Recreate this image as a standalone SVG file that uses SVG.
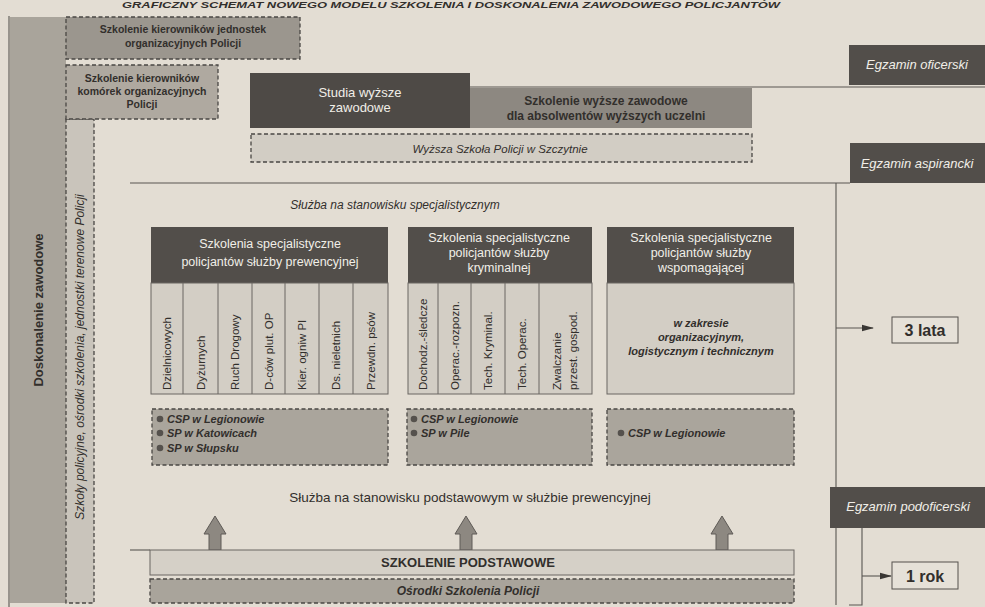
<svg xmlns="http://www.w3.org/2000/svg" width="985" height="607" viewBox="0 0 985 607">
<defs>
<style>
.t{font-family:"Liberation Sans",Arial,sans-serif;fill:#322f2c}
.w{fill:#f1eee8}
.b{font-weight:bold}
.i{font-style:italic}
.c{text-anchor:middle}
.dash{stroke:#4a4744;stroke-width:1.3;stroke-dasharray:4 2.5}
.ln{stroke:#5a5652;stroke-width:1.1;fill:none}
.dark{fill:#524e4a}
.col{font-family:"Liberation Sans",Arial,sans-serif;font-size:11.5px;fill:#322f2c}
</style>
<marker id="ah" viewBox="0 0 12 8" refX="11" refY="4" markerWidth="12" markerHeight="8" markerUnits="userSpaceOnUse" orient="auto">
<path d="M0,0.8 L12,4 L0,7.2 Z" fill="#3a3734"/>
</marker>
<symbol id="up" viewBox="0 0 24 34" overflow="visible">
<path d="M6,34 V18 H1 L12,0 L23,18 H18 V34 Z" fill="#8d8881" stroke="#5e5a56" stroke-width="1"/>
</symbol>
</defs>

<rect width="985" height="607" fill="#e3ddd3"/>

<!-- title -->
<text class="t b i" x="122" y="8" font-size="9" textLength="658" lengthAdjust="spacingAndGlyphs" fill="#2e2b28">GRAFICZNY SCHEMAT NOWEGO MODELU SZKOLENIA I DOSKONALENIA ZAWODOWEGO POLICJANTÓW</text>

<!-- connectors / frame lines -->
<g id="connectors">
<line class="ln" x1="9" y1="16" x2="9" y2="607"/>
<line class="ln" x1="470" y1="87" x2="985" y2="87"/>
<line class="ln" x1="130" y1="183" x2="850" y2="183"/>
<line class="ln" x1="836" y1="183" x2="836" y2="605"/>
<line class="ln" x1="130" y1="550" x2="150" y2="550"/>
<line class="ln" x1="836" y1="328" x2="873" y2="328" marker-end="url(#ah)"/>
<polyline class="ln" points="830,527 862,527 862,605 849,605"/>
<line class="ln" x1="862" y1="576" x2="891" y2="576" marker-end="url(#ah)"/>
<use href="#up" x="203" y="516" width="24" height="34"/>
<use href="#up" x="454" y="516" width="24" height="34"/>
<use href="#up" x="710" y="516" width="24" height="34"/>
</g>

<g id="doskonalenie">
<rect x="10" y="17" width="56" height="586" fill="#a9a49b"/>
<text class="t b c" transform="translate(43,310) rotate(-90)" font-size="13">Doskonalenie zawodowe</text>
</g>

<g id="szkoly">
<rect x="66" y="119" width="28" height="484" fill="#c9c4bb" class="dash"/>
<text class="t i c" transform="translate(84,357) rotate(-90)" font-size="12">Szkoły policyjne, ośrodki szkolenia, jednostki terenowe Policji</text>
</g>

<g id="kier-jednostek">
<rect x="66" y="17" width="234" height="42" fill="#9b968e" class="dash"/>
<text class="t b c" x="183" y="33" font-size="10.5">Szkolenie kierowników jednostek</text>
<text class="t b c" x="183" y="47" font-size="10.5">organizacyjnych Policji</text>
</g>

<g id="kier-komorek">
<rect x="66" y="65" width="152" height="54" fill="#afa9a0" class="dash"/>
<text class="t b c" x="142" y="82" font-size="10.5">Szkolenie kierowników</text>
<text class="t b c" x="142" y="95" font-size="10.5">komórek organizacyjnych</text>
<text class="t b c" x="142" y="108" font-size="10.5">Policji</text>
</g>

<g id="studia">
<rect x="250" y="73" width="220" height="55" fill="#4e4a46"/>
<text class="t w c" x="360" y="97" font-size="13">Studia wyższe</text>
<text class="t w c" x="360" y="112" font-size="13">zawodowe</text>
</g>

<g id="szkolenie-wyzsze">
<rect x="470" y="88" width="282" height="40" fill="#8d8881"/>
<text class="t b c" x="606" y="105" font-size="12" fill="#34312e">Szkolenie wyższe zawodowe</text>
<text class="t b c" x="606" y="120" font-size="12" fill="#34312e">dla absolwentów wyższych uczelni</text>
</g>

<g id="wsp">
<rect x="251" y="134" width="501" height="28" fill="#d2cdc4" class="dash"/>
<text class="t i c" x="500" y="153" font-size="11.5">Wyższa Szkoła Policji w Szczytnie</text>
</g>

<g id="egz-oficerski">
<rect x="849" y="45" width="136" height="40" class="dark"/>
<text class="t w i c" x="917" y="69" font-size="13">Egzamin oficerski</text>
</g>

<g id="egz-aspirancki">
<rect x="850" y="143" width="135" height="40" class="dark"/>
<text class="t w i c" x="917" y="168" font-size="13">Egzamin aspirancki</text>
</g>

<g id="sluzba-spec">
<text class="t i c" x="395" y="209" font-size="12">Służba na stanowisku specjalistycznym</text>
</g>

<g id="prewencja">
<rect x="151" y="227" width="237" height="56" class="dark"/>
<text class="t w c" x="270" y="248" font-size="12.5">Szkolenia specjalistyczne</text>
<text class="t w c" x="270" y="266" font-size="12.5">policjantów służby prewencyjnej</text>
<rect x="151" y="283" width="237" height="111" fill="#d3cec5" stroke="#6a6662" stroke-width="1"/>
<g stroke="#6a6662" stroke-width="1">
<line x1="183" y1="283" x2="183" y2="394"/><line x1="218" y1="283" x2="218" y2="394"/>
<line x1="252" y1="283" x2="252" y2="394"/><line x1="285" y1="283" x2="285" y2="394"/>
<line x1="319" y1="283" x2="319" y2="394"/><line x1="353" y1="283" x2="353" y2="394"/>
</g>
<text class="col" transform="translate(171,390) rotate(-90)">Dzielnicowych</text>
<text class="col" transform="translate(205,390) rotate(-90)">Dyżurnych</text>
<text class="col" transform="translate(239,390) rotate(-90)">Ruch Drogowy</text>
<text class="col" transform="translate(273,390) rotate(-90)">D-ców plut. OP</text>
<text class="col" transform="translate(306,390) rotate(-90)">Kier. ogniw PI</text>
<text class="col" transform="translate(340,390) rotate(-90)">Ds. nieletnich</text>
<text class="col" transform="translate(375,390) rotate(-90)">Przewdn. psów</text>
</g>

<g id="prewencja-miejsca">
<rect x="152" y="409" width="236" height="56" fill="#aaa59c" class="dash"/>
<g fill="#55514d"><circle cx="160" cy="419" r="3.3"/><circle cx="160" cy="433" r="3.3"/><circle cx="160" cy="448" r="3.3"/></g>
<text class="t b i" x="167" y="423" font-size="11">CSP w Legionowie</text>
<text class="t b i" x="167" y="437" font-size="11">SP w Katowicach</text>
<text class="t b i" x="167" y="452" font-size="11">SP w Słupsku</text>
</g>

<g id="kryminalna">
<rect x="408" y="227" width="184" height="56" class="dark"/>
<text class="t w c" x="499" y="242" font-size="12.5">Szkolenia specjalistyczne</text>
<text class="t w c" x="499" y="257" font-size="12.5">policjantów służby</text>
<text class="t w c" x="499" y="272" font-size="12.5">kryminalnej</text>
<rect x="408" y="283" width="184" height="111" fill="#d3cec5" stroke="#6a6662" stroke-width="1"/>
<g stroke="#6a6662" stroke-width="1">
<line x1="438" y1="283" x2="438" y2="394"/><line x1="471" y1="283" x2="471" y2="394"/>
<line x1="505" y1="283" x2="505" y2="394"/><line x1="539" y1="283" x2="539" y2="394"/>
</g>
<text class="col" transform="translate(427,390) rotate(-90)">Dochodz.-śledcze</text>
<text class="col" transform="translate(459,390) rotate(-90)">Operac.-rozpozn.</text>
<text class="col" transform="translate(492,390) rotate(-90)">Tech. Kryminal.</text>
<text class="col" transform="translate(526,390) rotate(-90)">Tech. Operac.</text>
<text class="col" transform="translate(561,390) rotate(-90)">Zwalczanie</text>
<text class="col" transform="translate(577,390) rotate(-90)">przest. gospod.</text>
</g>

<g id="kryminalna-miejsca">
<rect x="407" y="409" width="185" height="56" fill="#aaa59c" class="dash"/>
<g fill="#55514d"><circle cx="414" cy="419" r="3.3"/><circle cx="414" cy="433" r="3.3"/></g>
<text class="t b i" x="421" y="423" font-size="11">CSP w Legionowie</text>
<text class="t b i" x="421" y="437" font-size="11">SP w Pile</text>
</g>

<g id="wspomagajaca">
<rect x="607" y="227" width="187" height="56" class="dark"/>
<text class="t w c" x="701" y="242" font-size="12.5">Szkolenia specjalistyczne</text>
<text class="t w c" x="701" y="257" font-size="12.5">policjantów służby</text>
<text class="t w c" x="701" y="272" font-size="12.5">wspomagającej</text>
<rect x="607" y="283" width="187" height="111" fill="#d3cec5" stroke="#6a6662" stroke-width="1"/>
<text class="t b i c" x="701" y="327" font-size="11">w zakresie</text>
<text class="t b i c" x="701" y="341" font-size="11">organizacyjnym,</text>
<text class="t b i c" x="701" y="355" font-size="11">logistycznym i technicznym</text>
</g>

<g id="wspomagajaca-miejsca">
<rect x="607" y="409" width="187" height="56" fill="#aaa59c" class="dash"/>
<circle cx="621" cy="433" r="3.3" fill="#55514d"/>
<text class="t b i" x="628" y="437" font-size="11">CSP w Legionowie</text>
</g>

<g id="trzy-lata">
<rect x="892" y="317" width="66" height="26" fill="#e6e1d8" stroke="#55514d" stroke-width="1"/>
<text class="t b c" x="925" y="336" font-size="16">3 lata</text>
</g>

<g id="egz-podoficerski">
<rect x="830" y="487" width="155" height="41" class="dark"/>
<text class="t w i c" x="908" y="511" font-size="13">Egzamin podoficerski</text>
</g>

<g id="sluzba-podst">
<text class="t c" x="470" y="502" font-size="13.5">Służba na stanowisku podstawowym w służbie prewencyjnej</text>
</g>

<g id="szkolenie-podstawowe">
<rect x="150" y="550" width="644" height="25" fill="#d5d0c7" stroke="#6a6662" stroke-width="1"/>
<text class="t b c" x="468" y="567" font-size="13">SZKOLENIE PODSTAWOWE</text>
</g>

<g id="osrodki">
<rect x="150" y="579" width="644" height="24" fill="#a9a49b" class="dash"/>
<text class="t b i c" x="468" y="595" font-size="12">Ośrodki Szkolenia Policji</text>
</g>

<g id="jeden-rok">
<rect x="892" y="562" width="66" height="27" fill="#e6e1d8" stroke="#55514d" stroke-width="1"/>
<text class="t b c" x="925" y="582" font-size="16">1 rok</text>
</g>
</svg>
